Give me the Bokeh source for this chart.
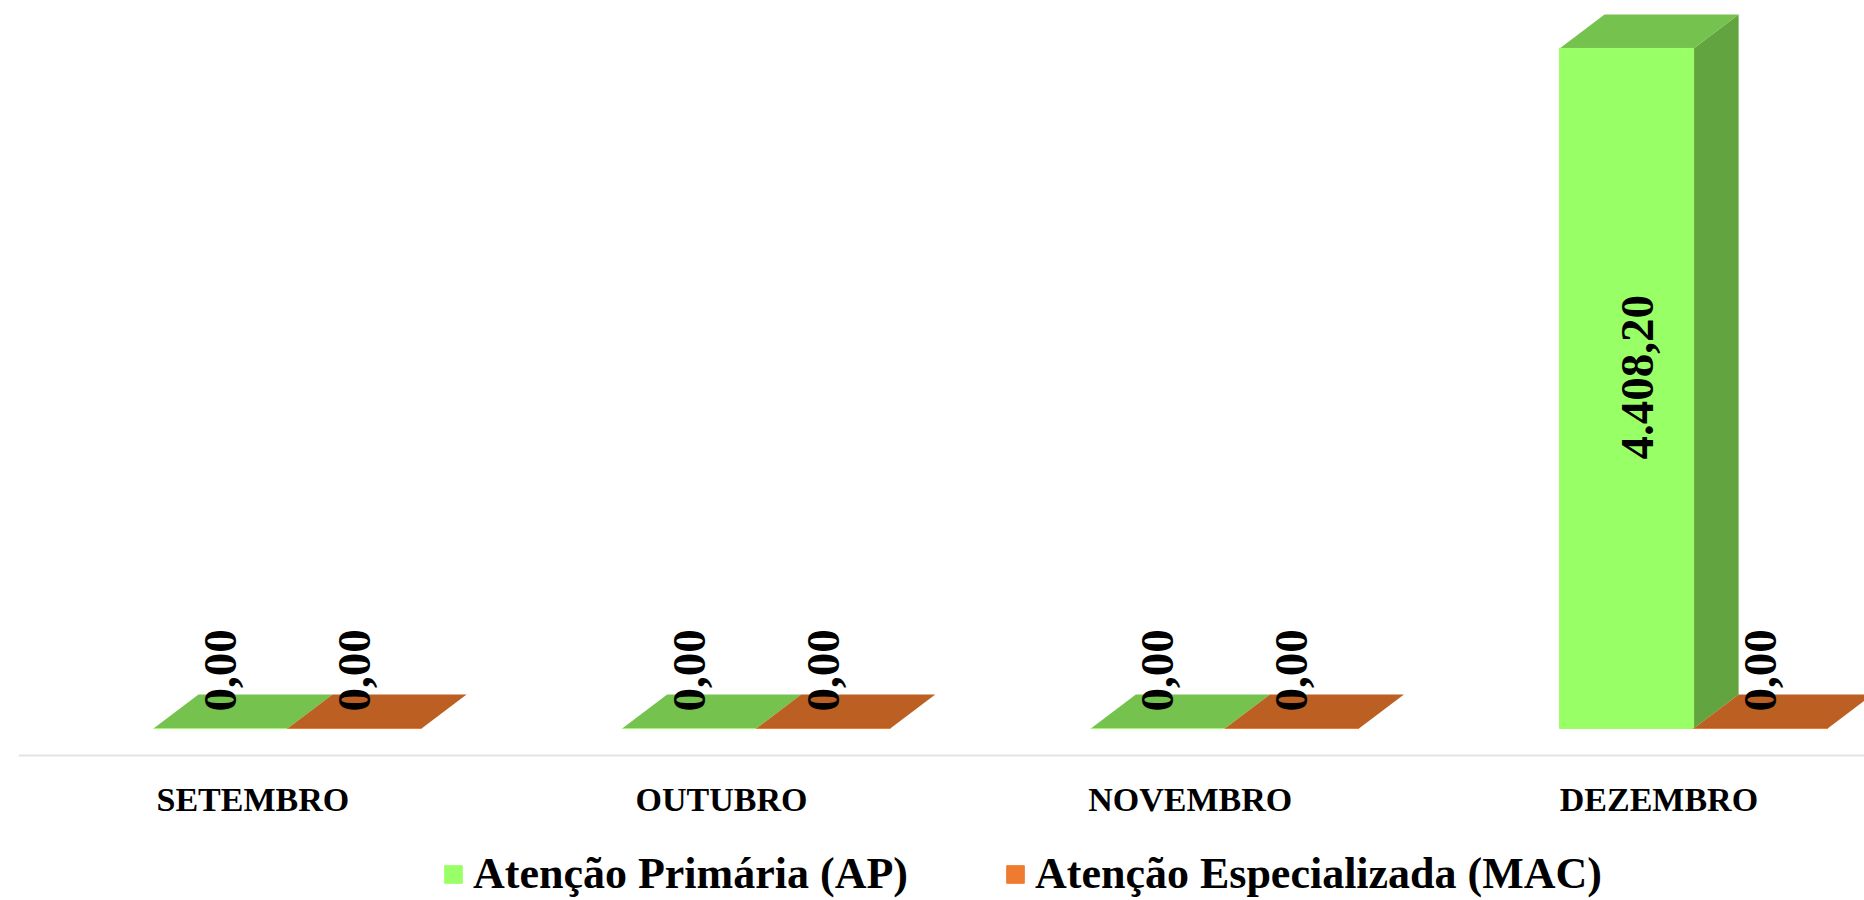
import math
from bokeh.plotting import figure
from bokeh.models import Range1d, Legend, LegendItem, ColumnDataSource, Span
from bokeh.core.properties import value
from bokeh.embed import file_html
from bokeh.resources import INLINE

# ---------------- data ----------------
categories = ["SETEMBRO", "OUTUBRO", "NOVEMBRO", "DEZEMBRO"]
ap_values = [0.00, 0.00, 0.00, 4408.20]
mac_values = [0.00, 0.00, 0.00, 0.00]
series_names = ["Atenção Primária (AP)", "Atenção Especializada (MAC)"]

# ---------------- styling / geometry ----------------
FONT = "Liberation Serif"
BAR_W = 0.286             # bar width in category units
BAR_OFF = [0.288, 0.574]  # left edge of each series' front face inside a category
DX = 0.096                # 3D depth, x (category units)
DY = 220.0                # 3D depth, y (data units)
AXIS_Y = -175.0           # category axis line position (data units)
CAT_LABEL_Y = -462.0      # category label baseline (data units)
front_colors = ["#99FF66", "#EE7B30"]
top_colors = ["#75C24F", "#BC5F22"]
side_colors = ["#62A43F", "#9E4E1B"]


def br(v):
    s = f"{v:,.2f}"
    return s.replace(",", "X").replace(".", ",").replace("X", ".")


p = figure(frame_width=1846, frame_height=900, output_backend="svg", toolbar_location=None,
           x_range=Range1d(0, 3.9386), y_range=Range1d(-1115, 4719),
           x_axis_location=None, y_axis_location=None,
           min_border_left=18, min_border_right=0, min_border_top=0, min_border_bottom=0)
p.outline_line_color = None
p.grid.visible = False
p.background_fill_color = "white"

# category axis line
p.add_layout(Span(location=AXIS_Y, dimension="width", line_color="#E1E4E8", line_width=2))

front_renderers = []
for s, vals in enumerate([ap_values, mac_values]):
    lefts = [i + BAR_OFF[s] for i in range(len(categories))]
    rights = [l + BAR_W for l in lefts]
    sxs, sys_ = [], []
    txs, tys = [], []
    for l, r, v in zip(lefts, rights, vals):
        sxs.append([r, r + DX, r + DX, r])
        sys_.append([0, DY, v + DY, v])
        txs.append([l, l + DX, r + DX, r])
        tys.append([v, v + DY, v + DY, v])
    p.patches(sxs, sys_, fill_color=side_colors[s], line_color=None)
    p.patches(txs, tys, fill_color=top_colors[s], line_color=None)
    fr = p.quad(left=lefts, right=rights, bottom=[0] * len(vals), top=vals,
                fill_color=front_colors[s], line_color=front_colors[s], line_width=1)
    front_renderers.append(fr)

    lx, ly, la, lt = [], [], [], []
    for l, r, v in zip(lefts, rights, vals):
        c = (l + r) / 2
        if v > 0:
            lx.append(c + DX / 4)
            ly.append(v / 2 + DY / 3)
            la.append("center")
        else:
            lx.append(c)
            ly.append(DY / 2)
            la.append("left")
        lt.append(br(v))
    src = ColumnDataSource(dict(x=lx, y=ly, t=lt, a=la))
    p.text(x="x", y="y", text="t", source=src, angle=math.pi / 2,
           text_align="a", text_baseline="middle",
           text_font=value(FONT), text_font_style="bold",
           text_font_size="47px", text_color="black")

# category labels
cat_src = ColumnDataSource(dict(x=[i + 0.5 for i in range(len(categories))],
                                y=[CAT_LABEL_Y] * len(categories), t=categories))
p.text(x="x", y="y", text="t", source=cat_src, text_align="center",
       text_baseline="alphabetic", text_font=value(FONT), text_font_style="bold",
       text_font_size="34px", text_color="black")

legend = Legend(items=[LegendItem(label=series_names[0], renderers=[front_renderers[0]]),
                       LegendItem(label=series_names[1], renderers=[front_renderers[1]])],
                orientation="horizontal", location=(424, 1),
                label_text_font=FONT, label_text_font_style="bold",
                label_text_font_size="44px", label_text_color="black",
                glyph_width=22, glyph_height=22, label_standoff=9, spacing=96,
                padding=0, margin=0, border_line_color=None,
                background_fill_alpha=0)
p.add_layout(legend, "center")

open("out.html", "w").write(file_html(p, INLINE))
